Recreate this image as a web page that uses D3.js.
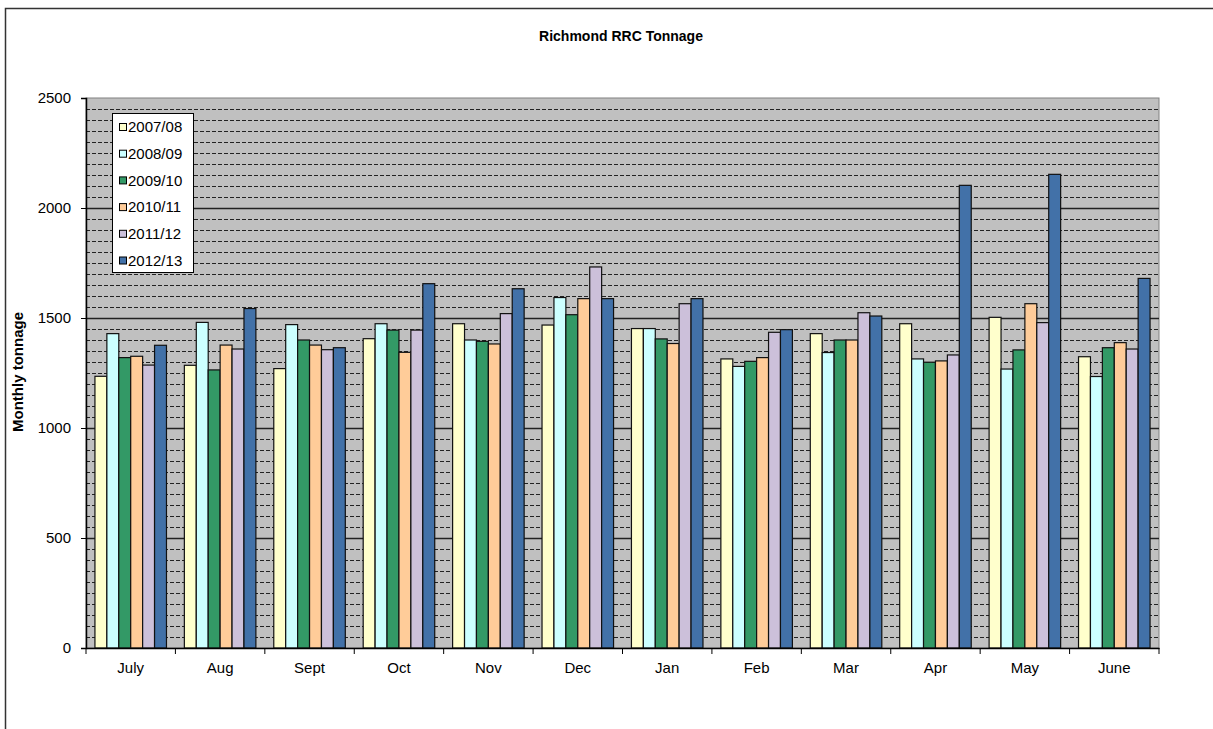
<!DOCTYPE html>
<meta charset="utf-8">
<script src="https://d3js.org/d3.v7.min.js"></script>
<style>
  body { margin: 0; background: #fff; }
  text { font-family: Arial, "Liberation Sans", sans-serif; fill: #000; }
</style>
<div id="my_dataviz"></div>
<script>

// months and seasons
var months = ["July", "Aug", "Sept", "Oct", "Nov", "Dec", "Jan", "Feb", "Mar", "Apr", "May", "June"];
var seasons = ["2007/08", "2008/09", "2009/10", "2010/11", "2011/12", "2012/13"];

// monthly tonnage per season
var y0708 = [1235, 1285, 1270, 1406, 1474, 1468, 1452, 1314, 1429, 1474, 1503, 1324];
var y0809 = [1429, 1480, 1470, 1474, 1400, 1593, 1452, 1280, 1343, 1314, 1268, 1234];
var y0910 = [1320, 1264, 1400, 1445, 1394, 1515, 1405, 1303, 1400, 1299, 1355, 1365];
var y1011 = [1326, 1377, 1377, 1344, 1382, 1588, 1384, 1320, 1400, 1305, 1565, 1388];
var y1112 = [1286, 1359, 1356, 1445, 1520, 1732, 1565, 1435, 1524, 1332, 1479, 1359];
var y1213 = [1376, 1543, 1365, 1656, 1633, 1588, 1588, 1447, 1509, 2103, 2153, 1680];
var yTicks = [0, 500, 1000, 1500, 2000, 2500];

var colors = ["#FFFFCC", "#CCFFFF", "#339966", "#FFCC99", "#CCC0DA", "#4271A8"];
var series = [y0708, y0809, y0910, y1011, y1112, y1213];

var W = 1213, H = 729;
var margin = {top: 98, right: 54, bottom: 81, left: 86},
    width = 1159 - margin.left,
    height = 648 - margin.top;

var root = d3.select("#my_dataviz")
  .append("svg")
    .attr("width", W)
    .attr("height", H);

// outer chart frame
root.append("rect")
  .attr("x", 5.5).attr("y", 8.5)
  .attr("width", 1240).attr("height", 760)
  .attr("fill", "none")
  .attr("stroke", "#333")
  .attr("stroke-width", 1.5);

// title
root.append("text")
  .attr("x", 621).attr("y", 41)
  .attr("text-anchor", "middle")
  .style("font-size", "14px")
  .style("font-weight", "bold")
  .text("Richmond RRC Tonnage");

// y axis title
root.append("text")
  .attr("transform", "translate(23,372) rotate(-90)")
  .attr("text-anchor", "middle")
  .style("font-size", "15px")
  .style("font-weight", "bold")
  .text("Monthly tonnage");

var svg = root.append("g")
  .attr("transform", "translate(" + margin.left + "," + margin.top + ")");

var x = d3.scaleBand()
  .domain(months)
  .range([0, width])
  .paddingInner(0)
  .paddingOuter(0);

var xs = d3.scaleBand()
  .domain(seasons)
  .range([0, x.bandwidth()])
  .paddingOuter(0.75)
  .paddingInner(0);

var y = d3.scaleLinear()
  .domain([0, 2500])
  .range([height, 0]);

// plot background
svg.append("rect")
  .attr("width", width).attr("height", height)
  .attr("fill", "#C0C0C0")
  .attr("stroke", "#808080");

// minor gridlines every 50
svg.append("g")
  .selectAll("line")
  .data(d3.range(50, 2500, 50).filter(function(v) { return v % 500 != 0; }))
  .enter().append("line")
    .attr("x1", 0).attr("x2", width)
    .attr("y1", function(d) { return Math.round(y(d)) + 0.5; })
    .attr("y2", function(d) { return Math.round(y(d)) + 0.5; })
    .attr("stroke", "#222")
    .attr("stroke-dasharray", "4,2");

// major gridlines
svg.append("g")
  .selectAll("line")
  .data(yTicks.slice(1, 5))
  .enter().append("line")
    .attr("x1", 0).attr("x2", width)
    .attr("y1", function(d) { return Math.round(y(d)) + 0.5; })
    .attr("y2", function(d) { return Math.round(y(d)) + 0.5; })
    .attr("stroke", "#222")
    .attr("stroke-width", 1.5);

// bars
var rows = [];
months.forEach(function(m, i) {
  seasons.forEach(function(s, j) {
    rows.push({month: m, season: s, value: series[j][i], color: colors[j]});
  });
});

svg.append("g")
  .selectAll("rect")
  .data(rows)
  .enter().append("rect")
    .attr("x", function(d) { return x(d.month) + xs(d.season); })
    .attr("y", function(d) { return y(d.value); })
    .attr("width", xs.bandwidth())
    .attr("height", function(d) { return height - y(d.value); })
    .attr("fill", function(d) { return d.color; })
    .attr("stroke", "#111")
    .attr("stroke-width", 1.2);

// y axis
var yAxis = svg.append("g")
  .call(d3.axisLeft(y).tickValues(yTicks).tickSize(5).tickPadding(10).tickFormat(d3.format("d")));
yAxis.selectAll("text").style("font-size", "15px");
yAxis.select(".domain").attr("stroke", "#000").attr("stroke-width", 1.5);

// x axis with ticks at category borders
var xAxis = svg.append("g")
  .attr("transform", "translate(0," + height + ")")
  .call(d3.axisBottom(x).tickSize(0).tickPadding(14));
xAxis.selectAll("text").style("font-size", "15px");
xAxis.select(".domain").attr("stroke", "#000").attr("stroke-width", 1.5);
xAxis.selectAll(".border")
  .data(d3.range(0, months.length + 1))
  .enter().append("line")
    .attr("class", "border")
    .attr("x1", function(d) { return d * x.step(); })
    .attr("x2", function(d) { return d * x.step(); })
    .attr("y1", 0).attr("y2", 6)
    .attr("stroke", "#000");

// legend
var legend = svg.append("g")
  .attr("transform", "translate(" + (112 - margin.left) + "," + (113 - margin.top) + ")");
legend.append("rect")
  .attr("x", 0.5).attr("y", 0.5)
  .attr("width", 81).attr("height", 159)
  .attr("fill", "#fff")
  .attr("stroke", "#000");
var item = legend.selectAll(".item")
  .data(seasons)
  .enter().append("g")
    .attr("class", "item")
    .attr("transform", function(d, i) { return "translate(0," + (14 + i * 26.7) + ")"; });
item.append("rect")
  .attr("x", 7.5).attr("y", -3.5)
  .attr("width", 7).attr("height", 7)
  .attr("fill", function(d, i) { return colors[i]; })
  .attr("stroke", "#000");
item.append("text")
  .attr("x", 16).attr("dy", "0.35em")
  .style("font-size", "15px")
  .text(function(d) { return d; });

</script>
